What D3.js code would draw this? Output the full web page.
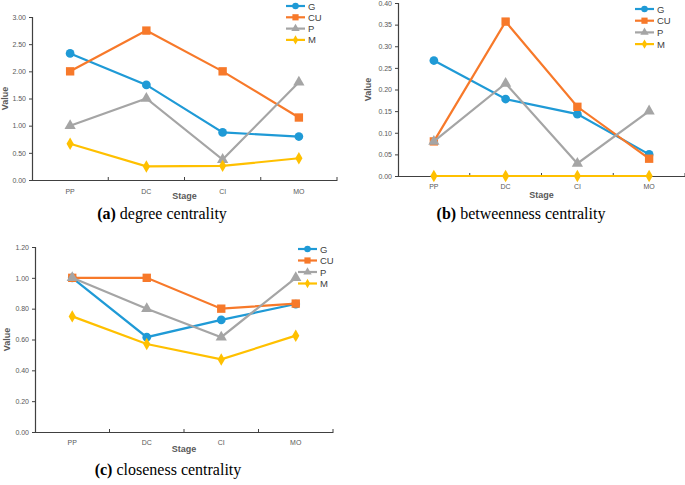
<!DOCTYPE html>
<html>
<head>
    <script src="https://d3js.org/d3.v7.min.js"></script>
    <style>
        body { margin: 0; background: #fff; }
        svg { display: block; font-family: Arial, "Liberation Sans", sans-serif; }
        .tick text { fill: #595959; }
    </style>
</head>
<body>
    <svg id="chart" width="685" height="485"></svg>
    <script>
        // shared categories and series
        const stages = ["PP", "DC", "CI", "MO"];
        const seriesNames = ["G", "CU", "P", "M"];
        const colors = ["#1f9ad6", "#f7792a", "#a5a5a5", "#ffc000"];
        const symbols = [d3.symbolCircle, d3.symbolSquare, d3.symbolTriangle, d3.symbolDiamond];
        const symbolSizes = [60, 70, 55, 45];

        // (a) degree centrality
        const degreeG  = [2.33, 1.75, 0.875, 0.80];
        const degreeCU = [2.00, 2.75, 2.00, 1.15];
        const degreeP  = [1.00, 1.50, 0.375, 1.80];
        const degreeM  = [0.667, 0.25, 0.26, 0.40];
        const degreeTicks = [0, 0.5, 1, 1.5, 2, 2.5, 3];

        // (b) betweenness centrality
        const betweenG  = [0.267, 0.178, 0.143, 0.05];
        const betweenCU = [0.08, 0.357, 0.16, 0.04];
        const betweenP  = [0.08, 0.214, 0.029, 0.15];
        const betweenM  = [0, 0, 0, 0];
        const betweenTicks = [0, 0.05, 0.1, 0.15, 0.2, 0.25, 0.3, 0.35, 0.4];

        // (c) closeness centrality
        const closeG  = [1.00, 0.615, 0.727, 0.83];
        const closeCU = [1.00, 1.00, 0.80, 0.833];
        const closeP  = [1.00, 0.80, 0.615, 1.00];
        const closeM  = [0.75, 0.571, 0.471, 0.625];
        const closeTicks = [0, 0.2, 0.4, 0.6, 0.8, 1.0, 1.2];

        const svg = d3.select("#chart");

        function drawPanel(p) {
            const g = svg.append("g");
            const x = d3.scaleBand().domain(stages).range([p.x0, p.x1]);
            const y = d3.scaleLinear().domain([0, p.ymax]).range([p.y1, p.y0]);

            // y axis, ticks pointing out
            const yAxis = g.append("g")
                .attr("transform", `translate(${p.x0},0)`)
                .call(d3.axisLeft(y).tickValues(p.ticks).tickFormat(d3.format(".2f")).tickSize(3).tickPadding(3));
            yAxis.selectAll("text").attr("font-size", 7);

            // x axis, ticks on band boundaries pointing in
            const xAxis = g.append("g")
                .attr("transform", `translate(0,${p.y1})`)
                .call(d3.axisBottom(x).tickSize(0).tickPadding(p.xpad));
            xAxis.selectAll("text").attr("font-size", 7);
            xAxis.selectAll(".tick").append("line")
                .attr("x1", x.bandwidth() / 2).attr("x2", x.bandwidth() / 2)
                .attr("y1", 0).attr("y2", -3)
                .attr("stroke", "#404040");
            g.selectAll(".domain").attr("stroke", "#404040").attr("stroke-width", 1.2);
            g.selectAll(".tick line").attr("stroke", "#404040");

            // axis titles
            g.append("text")
                .attr("transform", `translate(${p.valueX},${(p.y0 + p.y1) / 2}) rotate(-90)`)
                .attr("text-anchor", "middle")
                .attr("font-size", 9).attr("font-weight", "bold").attr("fill", "#595959")
                .text("Value");
            g.append("text")
                .attr("x", (p.x0 + p.x1) / 2).attr("y", p.stageY)
                .attr("text-anchor", "middle")
                .attr("font-size", 9).attr("font-weight", "bold").attr("fill", "#595959")
                .text("Stage");

            const line = d3.line()
                .x((d, i) => x(stages[i]) + x.bandwidth() / 2)
                .y(d => y(d));

            p.series.forEach((vals, s) => {
                g.append("path")
                    .attr("d", line(vals))
                    .attr("fill", "none")
                    .attr("stroke", colors[s])
                    .attr("stroke-width", 2.2);
                g.selectAll(null).data(vals).enter().append("path")
                    .attr("d", d3.symbol().type(symbols[s]).size(symbolSizes[s]))
                    .attr("transform", (d, i) => `translate(${x(stages[i]) + x.bandwidth() / 2},${y(d)})`)
                    .attr("fill", colors[s]);
            });

            // legend
            const leg = g.append("g");
            seriesNames.forEach((name, s) => {
                const ly = p.legY + s * p.legStep;
                leg.append("line")
                    .attr("x1", p.legX).attr("x2", p.legX + 19)
                    .attr("y1", ly).attr("y2", ly)
                    .attr("stroke", colors[s]).attr("stroke-width", 2.2);
                leg.append("path")
                    .attr("d", d3.symbol().type(symbols[s]).size(symbolSizes[s] * 0.55))
                    .attr("transform", `translate(${p.legX + 9.5},${ly})`)
                    .attr("fill", colors[s]);
                leg.append("text")
                    .attr("x", p.legX + 22).attr("y", ly + 3.5)
                    .attr("font-size", 9.5).attr("fill", "#404040")
                    .text(name);
            });

            // caption
            const cap = svg.append("text")
                .attr("x", p.capX).attr("y", p.capY)
                .attr("text-anchor", "middle")
                .attr("font-family", "'Liberation Serif', 'Times New Roman', serif")
                .attr("font-size", 16).attr("fill", "#000");
            cap.append("tspan").attr("font-weight", "bold").text(p.capLabel);
            cap.append("tspan").text(" " + p.capText);
        }

        drawPanel({
            x0: 32, x1: 337, y0: 17, y1: 180, ymax: 3, ticks: degreeTicks, xpad: 9,
            series: [degreeG, degreeCU, degreeP, degreeM],
            valueX: 8, stageY: 199,
            legX: 286, legY: 6, legStep: 11.3,
            capX: 162, capY: 219, capLabel: "(a)", capText: "degree centrality"
        });

        drawPanel({
            x0: 398, x1: 685, y0: 3, y1: 176, ymax: 0.4, ticks: betweenTicks, xpad: 8,
            series: [betweenG, betweenCU, betweenP, betweenM],
            valueX: 371, stageY: 198,
            legX: 635, legY: 9, legStep: 11.7,
            capX: 521, capY: 219, capLabel: "(b)", capText: "betweenness centrality"
        });

        drawPanel({
            x0: 35, x1: 333, y0: 247, y1: 432, ymax: 1.2, ticks: closeTicks, xpad: 8,
            series: [closeG, closeCU, closeP, closeM],
            valueX: 10, stageY: 452,
            legX: 298, legY: 249, legStep: 11.5,
            capX: 168, capY: 475, capLabel: "(c)", capText: "closeness centrality"
        });
    </script>
</body>
</html>
